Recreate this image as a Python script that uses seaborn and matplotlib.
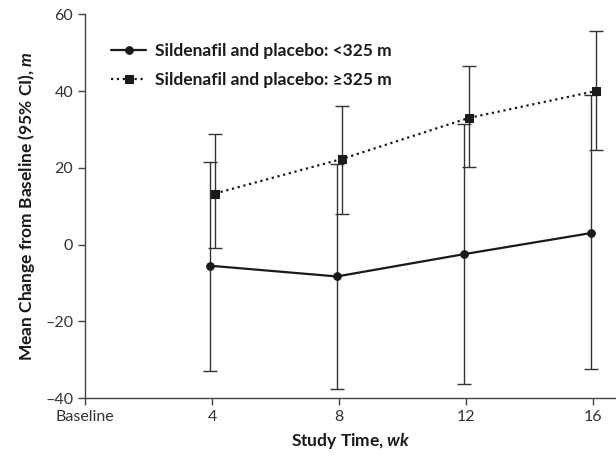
import numpy as np
import pandas as pd
import matplotlib
matplotlib.use("Agg")
import matplotlib.pyplot as plt
import seaborn as sns

# data
weeks = [4, 8, 12, 16]
low_mean = [-5.5, -8.3, -2.5, 3.0]
low_lo = [-33.0, -37.5, -36.3, -32.3]
low_hi = [21.5, 21.0, 31.3, 39.0]
high_mean = [13.3, 22.3, 33.0, 40.0]
high_lo = [-1.0, 8.0, 20.3, 24.7]
high_hi = [28.7, 36.0, 46.6, 55.7]
labels = ["Sildenafil and placebo: <325 m", "Sildenafil and placebo: \u2265325 m"]
xtick_pos = [0, 4, 8, 12, 16]
xtick_labels = ["Baseline", "4", "8", "12", "16"]
ytick_pos = [-40, -20, 0, 20, 40, 60]
ytick_labels = ["\u201340", "\u201320", "0", "20", "40", "60"]

sns.set_theme(style="ticks")
plt.rcParams["font.family"] = ["Lato", "DejaVu Sans"]
plt.rcParams["mathtext.fontset"] = "custom"
plt.rcParams["mathtext.it"] = "Lato:italic:bold"

df = pd.DataFrame({
    "week": weeks * 2,
    "mean": low_mean + high_mean,
    "lo": low_lo + high_lo,
    "hi": low_hi + high_hi,
    "group": [labels[0]] * 4 + [labels[1]] * 4,
})

fig = plt.figure(figsize=(6.16, 4.74), dpi=100)
ax = fig.add_axes([0.138, 0.160, 0.862, 0.810])

dark = "#1a1a1a"
shift = {labels[0]: -0.07, labels[1]: 0.09}
styles = {labels[0]: ("-", "o", 5.5), labels[1]: (":", "s", 5.5)}
for g, sub in df.groupby("group", sort=False):
    x = sub["week"] + shift[g]
    ls, mk, ms = styles[g]
    ax.errorbar(x, sub["mean"], yerr=[sub["mean"] - sub["lo"], sub["hi"] - sub["mean"]],
                fmt="none", ecolor="#333333", elinewidth=1.0, capsize=5, capthick=1.0, zorder=2)
    sns.lineplot(x=x, y=sub["mean"], ax=ax, color=dark, linestyle=ls, marker=mk,
                 markersize=ms, markeredgecolor=dark, linewidth=1.6, label=g, zorder=3)

ax.set_xlim(0, 16.72)
ax.set_ylim(-40, 60)
ax.set_xticks(xtick_pos)
ax.set_xticklabels(xtick_labels)
ax.set_yticks(ytick_pos)
ax.set_yticklabels(ytick_labels)
ax.tick_params(direction="out", length=5, width=1, color="#444444", labelsize=11.5, labelcolor="#333333")
for s in ["top", "right"]:
    ax.spines[s].set_visible(False)
for s in ["left", "bottom"]:
    ax.spines[s].set_color("#444444")
    ax.spines[s].set_linewidth(1)

ax.set_xlabel(r"Study Time, $\mathit{wk}$", fontsize=12.5, fontweight="bold", color=dark, labelpad=5)
ax.set_ylabel(r"Mean Change from Baseline (95% CI), $\mathit{m}$", fontsize=12.5,
              fontweight="bold", color=dark, labelpad=6)

leg = ax.legend(loc="upper left", bbox_to_anchor=(0.02, 0.965), frameon=False,
                handlelength=2.0, handletextpad=0.5, labelspacing=0.75,
                prop={"weight": "bold", "size": 12.5})
for t in leg.get_texts():
    t.set_color(dark)

fig.savefig("out.png", dpi=100)
